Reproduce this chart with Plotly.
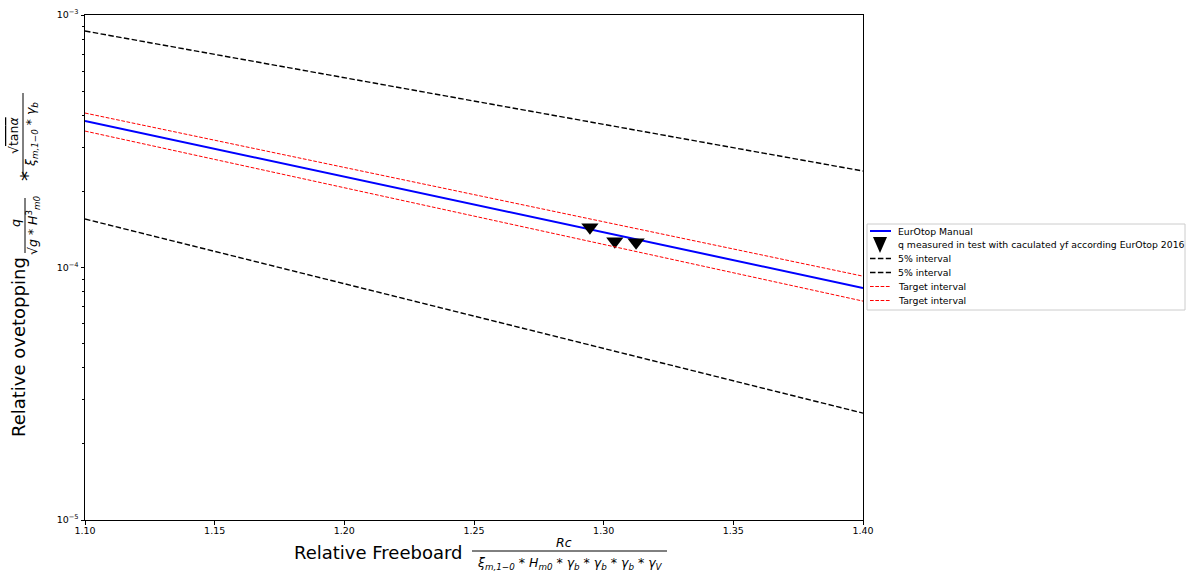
import plotly.graph_objects as go

# ---- data ----
x_line = [1.10, 1.40]
eurotop = [3.80e-4, 8.30e-5]
target_upper = [4.09e-4, 9.24e-5]
target_lower = [3.47e-4, 7.36e-5]
interval5_upper = [8.64e-4, 2.41e-4]
interval5_lower = [1.556e-4, 2.65e-5]

x_meas = [1.2947, 1.3043, 1.3125]
q_meas = [1.445e-4, 1.27e-4, 1.26e-4]

x_ticks = [1.10, 1.15, 1.20, 1.25, 1.30, 1.35, 1.40]
y_ticks = [1e-5, 1e-4, 1e-3]
y_ticklabels = ["10<sup>−5</sup>", "10<sup>−4</sup>", "10<sup>−3</sup>"]
y_minor = [m * 10.0 ** e for e in (-5, -4) for m in range(2, 10)]

legend_names = ["EurOtop Manual",
                "q measured in test with caculated yf according EurOtop 2016",
                "5% interval", "5% interval", "Target interval", "Target interval"]

W, H = 1187, 574
L, R, T, B = 85, 863, 15, 520  # plot area in pixels

styles = [
    dict(mode="lines", line=dict(color="#0000ff", width=2)),
    dict(mode="markers", marker=dict(symbol="triangle-down", size=15, color="black")),
    dict(mode="lines", line=dict(color="black", width=1.4, dash="5.5px,2.4px")),
    dict(mode="lines", line=dict(color="black", width=1.4, dash="5.5px,2.4px")),
    dict(mode="lines", line=dict(color="red", width=1, dash="3.7px,1.6px")),
    dict(mode="lines", line=dict(color="red", width=1, dash="3.7px,1.6px")),
]
xs = [x_line, x_meas, x_line, x_line, x_line, x_line]
ys = [eurotop, q_meas, interval5_upper, interval5_lower, target_upper, target_lower]

fig = go.Figure()
for name, st, xv, yv in zip(legend_names, styles, xs, ys):
    fig.add_trace(go.Scatter(x=xv, y=yv, name=name, showlegend=False, **st))


def px(xp):
    return (xp - L) / (R - L)


def py(yp):
    return (B - yp) / (B - T)


ann = []
shapes = []
FAM = "DejaVu Sans"
font_big = dict(family=FAM, size=18, color="black")
font_frac = dict(family=FAM, size=12.5, color="black")


def text(x, y, s, font, angle=0, xanchor="center"):
    ann.append(dict(x=px(x), y=py(y), xref="paper", yref="paper", text=s, showarrow=False,
                    textangle=angle, font=font, xanchor=xanchor, yanchor="middle"))


def line(x0, y0, x1, y1, color="black", width=1, dash=None):
    ln = dict(color=color, width=width)
    if dash:
        ln["dash"] = dash
    shapes.append(dict(type="line", xref="paper", yref="paper", x0=px(x0), x1=px(x1),
                       y0=py(y0), y1=py(y1), line=ln))


# x-axis title
text(378, 552, "Relative Freeboard", font_big)
text(564, 542, "<i>Rc</i>", font_frac)
line(472, 551, 667, 551)
text(570, 563,
     "<i>ξ<sub>m,1−0</sub></i> * <i>H<sub>m0</sub></i> * <i>γ<sub>b</sub></i> * "
     "<i>γ<sub>b</sub></i> * <i>γ<sub>b</sub></i> * <i>γ<sub>V</sub></i>", font_frac)

# y-axis title
text(19, 347, "Relative ovetopping", font_big, angle=-90)
text(15, 223, "<i>q</i>", font_frac, angle=-90)
line(25, 253, 25, 198)
text(33, 225, "√<i>g</i> * <i>H</i><sup>3</sup><sub><i>m0</i></sub>", font_frac, angle=-90)
text(27, 176, "*", dict(family=FAM, size=20, color="black"), angle=-90)
text(13, 136, "√<span style='text-decoration:overline'>tan<i>α</i></span>", font_frac, angle=-90)
line(23, 175, 23, 93)
text(31, 134, "<i>ξ<sub>m,1−0</sub></i> * <i>γ<sub>b</sub></i>", font_frac, angle=-90)

# legend (drawn by hand to match the compact layout)
shapes.append(dict(type="rect", xref="paper", yref="paper", x0=px(867), x1=px(1185),
                   y0=py(310), y1=py(224), line=dict(color="#cccccc", width=1),
                   fillcolor="white", layer="above"))
row_y = [231, 245, 258.5, 272.5, 286.5, 300.5]
for name, st, yy in zip(legend_names, styles, row_y):
    if st["mode"] == "lines":
        ln = st["line"]
        line(870, yy, 891, yy, color=ln["color"], width=ln["width"], dash=ln.get("dash"))
    else:
        shapes.append(dict(type="path", xref="paper", yref="paper",
                           path=f"M {px(873)},{py(237)} L {px(887)},{py(237)} L {px(880)},{py(253)} Z",
                           fillcolor="black", line=dict(color="black", width=0)))
    text(896, yy, name, dict(family=FAM, size=9.3, color="black"), xanchor="left")

fig.update_layout(
    width=W, height=H,
    margin=dict(l=L, r=W - R, t=T, b=H - B, autoexpand=False),
    plot_bgcolor="white", paper_bgcolor="white",
    font=dict(family=FAM, size=10, color="black"),
    showlegend=False,
    annotations=ann, shapes=shapes,
)
fig.update_xaxes(range=[1.10, 1.40], tickvals=x_ticks, tickformat=".2f",
                 showline=True, linecolor="black", linewidth=1, mirror=True,
                 ticks="outside", ticklen=3.5, tickcolor="black", showgrid=False, zeroline=False,
                 tickfont=dict(size=9.5), ticklabelstandoff=-2)
fig.update_yaxes(type="log", range=[-5, -3], tickvals=y_ticks, ticktext=y_ticklabels,
                 showline=True, linecolor="black", linewidth=1, mirror=True,
                 ticks="outside", ticklen=3.5, tickcolor="black", showgrid=False, zeroline=False,
                 tickfont=dict(size=9.5),
                 minor=dict(tickvals=y_minor, ticks="outside", ticklen=2, tickcolor="black", showgrid=False))

# remove the default 8px page margin so the figure fills the window exactly
fig.write_html("out.html", config={"displayModeBar": False},
               post_script="document.body.style.margin='0';document.body.style.overflow='hidden';")
